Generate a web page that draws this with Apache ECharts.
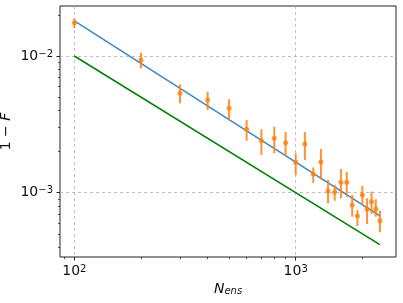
<!DOCTYPE html>
<html>
<head>
<meta charset="utf-8">
<script src="https://cdn.jsdelivr.net/npm/echarts@6/dist/echarts.min.js"></script>
<style>
html,body{margin:0;padding:0;background:#fff;}
#c{width:403px;height:303px;}
</style>
</head>
<body>
<div id="c"></div>
<script>
// ---- data ----
const nEns = [100,200,300,400,500,600,700,800,900,1000,1100,1200,1300,1400,1500,1600,1700,1800,1900,2000,2100,2200,2300,2400];
const infidelity = [0.01753,0.00935,0.00533,0.00476,0.00414,0.00291,0.00240,0.00250,0.00232,0.00167,0.00227,0.00137,0.00168,0.00103,0.00101,0.00119,0.00119,0.000813,0.000675,0.000962,0.000756,0.000859,0.00076,0.000624];
const errLow = [0.01594,0.00813,0.00451,0.00403,0.00340,0.00240,0.00189,0.00194,0.00186,0.00135,0.00173,0.00118,0.00125,0.000837,0.000874,0.000910,0.000935,0.000667,0.000571,0.000813,0.00059,0.000698,0.000667,0.000513];
const errHigh = [0.01887,0.01057,0.00621,0.00548,0.00482,0.00340,0.00291,0.00304,0.00278,0.00194,0.00278,0.00153,0.00209,0.00124,0.00114,0.00149,0.00142,0.000962,0.000747,0.00112,0.00091,0.00102,0.000895,0.000739];
const fitX = [100, 2400];
const fitY = [0.0181, 0.000678];
const refX = [100, 2400];
const refY = [0.01, 0.000417];
const xMajorTicks = [100, 1000];
const xMinorTicks = [90,200,300,400,500,600,700,800,900,2000];
const yMajorTicks = [0.001, 0.01];
const yMinorTicks = [0.0004,0.0005,0.0006,0.0007,0.0008,0.0009,0.002,0.003,0.004,0.005,0.006,0.007,0.008,0.009,0.02];
const xLabel = '{i|N}{sub|ens}';
const yLabel = '1 − {i|F̄}';

const X_MIN = 86.15, X_MAX = 2838;
const Y_MIN = 3.386e-4, Y_MAX = 0.02321;

function powLabel(v){
  const e = Math.round(Math.log10(v));
  return '10{sup|' + (e < 0 ? '−' + (-e) : e) + '}';
}
const FONT = 'DejaVu Sans';
const labelRich = {
  sup: {fontSize: 10, fontFamily: FONT, color: '#111', verticalAlign: 'top', lineHeight: 10},
};
const gridRect = {left: 60, top: 6, width: 336, height: 251};

const chart = echarts.init(document.getElementById('c'), null, {renderer: 'canvas'});
chart.setOption({
  animation: false,
  backgroundColor: '#fff',
  grid: [
    Object.assign({show: true, borderColor: '#222', borderWidth: 1, backgroundColor: 'transparent', containLabel: false, outerBoundsMode: 'none'}, gridRect),
    Object.assign({show: false, containLabel: false, outerBoundsMode: 'none'}, gridRect)
  ],
  xAxis: [{
    type: 'log', gridIndex: 0, min: X_MIN, max: X_MAX, logBase: 10,
    axisLine: {show: false},
    axisTick: {show: true, length: 3.5, customValues: xMajorTicks, lineStyle: {color: '#222', width: 1}},
    axisLabel: {customValues: xMajorTicks, formatter: powLabel, margin: 7, fontSize: 14, fontFamily: FONT, color: '#111', rich: labelRich},
    splitLine: {show: true, lineStyle: {color: '#b0b0b0', type: [3, 3], width: 0.8}},
    name: xLabel, nameLocation: 'middle', nameGap: 25, nameMoveOverlap: false,
    nameTextStyle: {fontSize: 14, fontFamily: FONT, color: '#111',
      rich: {i: {fontSize: 14, fontStyle: 'italic', fontFamily: FONT, color: '#111'},
             sub: {fontSize: 10, fontStyle: 'italic', fontFamily: FONT, color: '#111', verticalAlign: 'bottom', lineHeight: 10}}}
  }, {
    type: 'log', gridIndex: 1, min: X_MIN, max: X_MAX, logBase: 10,
    axisLine: {show: false},
    axisTick: {show: true, length: 2, customValues: xMinorTicks, lineStyle: {color: '#222', width: 0.8}},
    axisLabel: {show: false},
    splitLine: {show: false}
  }],
  yAxis: [{
    type: 'log', gridIndex: 0, min: Y_MIN, max: Y_MAX, logBase: 10,
    axisLine: {show: false},
    axisTick: {show: true, length: 3.5, customValues: yMajorTicks, lineStyle: {color: '#222', width: 1}},
    axisLabel: {customValues: yMajorTicks, formatter: powLabel, margin: 7, fontSize: 14, fontFamily: FONT, color: '#111', rich: labelRich},
    splitLine: {show: true, lineStyle: {color: '#b0b0b0', type: [3, 3], width: 0.8}},
    name: yLabel, nameLocation: 'middle', nameGap: 46, nameRotate: 90, nameMoveOverlap: false,
    nameTextStyle: {fontSize: 14, fontFamily: FONT, color: '#111', lineHeight: 16,
      rich: {i: {fontSize: 14, fontStyle: 'italic', fontFamily: FONT, color: '#111', lineHeight: 16}}}
  }, {
    type: 'log', gridIndex: 1, min: Y_MIN, max: Y_MAX, logBase: 10,
    axisLine: {show: false},
    axisTick: {show: true, length: 2, customValues: yMinorTicks, lineStyle: {color: '#222', width: 0.8}},
    axisLabel: {show: false},
    splitLine: {show: false}
  }],
  series: [{
    type: 'line', xAxisIndex: 0, yAxisIndex: 0,
    data: fitX.map((x, i) => [x, fitY[i]]),
    showSymbol: false, symbol: 'none',
    lineStyle: {color: '#3d86c6', width: 1.5}, z: 2
  }, {
    type: 'line', xAxisIndex: 0, yAxisIndex: 0,
    data: refX.map((x, i) => [x, refY[i]]),
    showSymbol: false, symbol: 'none',
    lineStyle: {color: '#008000', width: 1.5}, z: 2
  }, {
    type: 'custom', xAxisIndex: 0, yAxisIndex: 0,
    encode: {x: 0, y: [1, 2]},
    data: nEns.map((n, i) => [n, errLow[i], errHigh[i]]),
    renderItem: function(params, api){
      const p1 = api.coord([api.value(0), api.value(1)]);
      const p2 = api.coord([api.value(0), api.value(2)]);
      return {type: 'line', shape: {x1: p1[0], y1: p1[1], x2: p2[0], y2: p2[1]},
        style: {stroke: 'rgba(255,127,14,0.85)', lineWidth: 2}};
    }, z: 3
  }, {
    type: 'scatter', xAxisIndex: 0, yAxisIndex: 0,
    data: nEns.map((n, i) => [n, infidelity[i]]),
    symbol: 'circle', symbolSize: 5,
    itemStyle: {color: '#ff7f0e'}, z: 4
  }]
});
</script>
</body>
</html>
